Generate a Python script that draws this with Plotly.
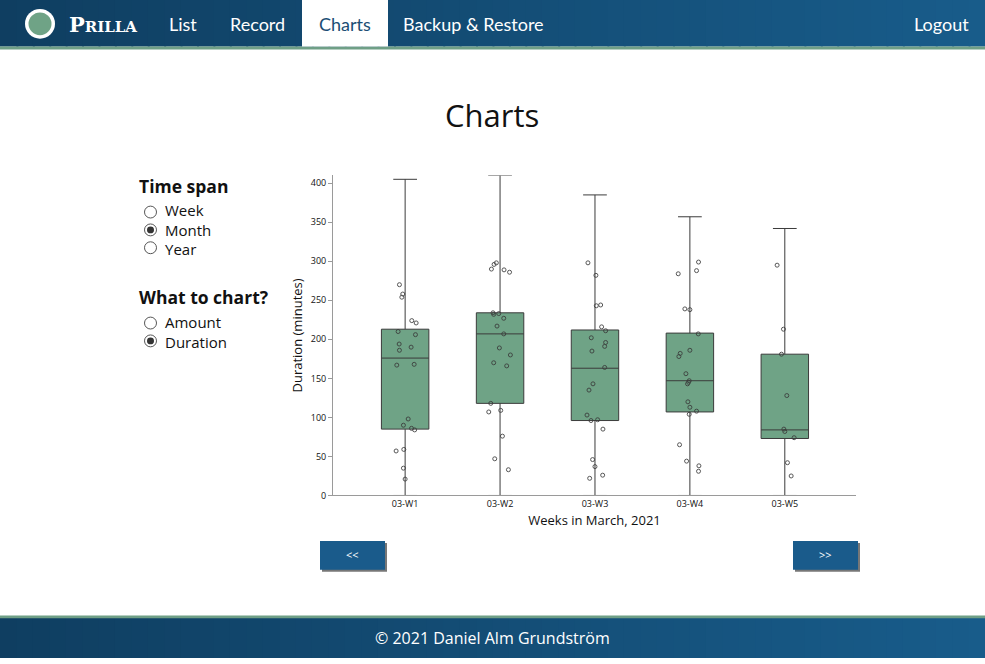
"""
Prilla - charts page: duration of sessions per week in March 2021,
drawn as a box plot with the single recordings scattered over it.
"""

import plotly.graph_objects as go


# ---- data ----
weeks = ["03-W1", "03-W2", "03-W3", "03-W4", "03-W5"]

box_min = [0, 0, 0, 0, 0]
box_q1 = [85, 118, 96, 107, 73]
box_median = [176, 207, 163, 147, 84]
box_q3 = [213, 234, 212, 208, 181]
box_max = [405, 410, 385, 357, 342]

# single recordings (minutes) and their horizontal jitter per week
w1_minutes = [270, 258, 254, 224, 221, 210, 206, 194, 190, 186, 167, 168,
              98, 90, 86, 84, 57, 59, 35, 21]
w1_jitter = [-0.06, -0.025, -0.035, 0.07, 0.116, -0.074, 0.109, -0.063,
             0.063, -0.06, -0.088, 0.095, 0.032, -0.018, 0.067, 0.10,
             -0.095, -0.014, -0.018, 0.0]

w2_minutes = [290, 296, 298, 289, 286, 234, 232, 233, 227, 217, 207, 189,
              180, 170, 166, 118, 107, 109, 76, 47, 33]
w2_jitter = [-0.091, -0.063, -0.039, 0.042, 0.10, -0.074, -0.067, -0.014,
             0.039, -0.032, 0.039, -0.007, 0.109, -0.067, 0.07, -0.098,
             -0.119, 0.007, 0.025, -0.056, 0.088]

w3_minutes = [298, 282, 243, 244, 216, 211, 202, 196, 191, 185, 164, 143,
              135, 103, 96, 97, 85, 46, 37, 26, 22]
w3_jitter = [-0.074, 0.01, 0.014, 0.06, 0.07, 0.112, -0.039, 0.112, 0.102,
             -0.032, 0.102, -0.021, -0.063, -0.084, -0.042, 0.028, 0.084,
             -0.025, 0.0, 0.081, -0.056]

w4_minutes = [299, 288, 284, 239, 238, 207, 186, 182, 178, 156, 147, 145,
              143, 120, 113, 108, 104, 65, 44, 38, 31]
w4_jitter = [0.091, 0.07, -0.123, -0.053, 0.0, 0.088, 0.0, -0.102, -0.116,
             -0.042, -0.007, -0.014, -0.025, -0.021, 0.0, 0.07, -0.007,
             -0.109, -0.035, 0.095, 0.091]

w5_minutes = [295, 213, 181, 128, 85, 82, 74, 42, 25]
w5_jitter = [-0.081, -0.014, -0.035, 0.021, -0.01, 0.0, 0.098, 0.028,
             0.067]

nav_items = ["List", "Record", "Charts", "Backup & Restore"]
time_spans = ["Week", "Month", "Year"]
chart_kinds = ["Amount", "Duration"]


W, H = 985, 664
NAVY_L = (15, 62, 97)
NAVY_R = (24, 92, 138)
GREEN = "#6f9f86"
BOX_GREEN = "#6fa386"


def px(x):
    return x / W


def py(y):
    return 1 - y / H


def mix(a, b, t):
    return "rgb(%d,%d,%d)" % tuple(round(a[i] + (b[i] - a[i]) * t)
                                   for i in range(3))


def gradient_bar(y0, y1, steps=60):
    # a horizontal gradient made from thin strips
    out = []
    for i in range(steps):
        out.append(dict(type="rect", xref="paper", yref="paper",
                        x0=i / steps, x1=(i + 1) / steps + 0.002,
                        y0=py(y1), y1=py(y0), line_width=0,
                        fillcolor=mix(NAVY_L, NAVY_R, i / (steps - 1)),
                        layer="below"))
    return out


fig = go.Figure()

# boxes: whiskers go from min to max
fig.add_trace(go.Box(
    x=list(range(len(weeks))),
    q1=box_q1, median=box_median, q3=box_q3,
    lowerfence=box_min, upperfence=box_max,
    width=0.5, whiskerwidth=0.5,
    fillcolor=BOX_GREEN,
    line=dict(color="#3b3b3b", width=1),
    boxpoints=False, hoverinfo="skip", showlegend=False,
))

# jittered recordings on top
all_minutes = [w1_minutes, w2_minutes, w3_minutes, w4_minutes, w5_minutes]
all_jitter = [w1_jitter, w2_jitter, w3_jitter, w4_jitter, w5_jitter]
for i, (mins, jit) in enumerate(zip(all_minutes, all_jitter)):
    fig.add_trace(go.Scatter(
        x=[i + j for j in jit], y=mins, mode="markers",
        marker=dict(symbol="circle-open", size=4, color="#3a3a3a",
                    line=dict(width=1)),
        opacity=0.85, hoverinfo="skip", showlegend=False,
    ))

fig.update_xaxes(
    domain=[px(333), px(856)], range=[-0.76, 4.75],
    tickvals=list(range(len(weeks))), ticktext=weeks,
    ticks="", showline=True, linecolor="#9a9a9a", linewidth=1,
    showgrid=False, zeroline=False,
    tickfont=dict(family="Open Sans", size=9, color="#111"),
    title=dict(text="Weeks in March, 2021", standoff=6,
               font=dict(family="Open Sans", size=13, color="#111")),
)
fig.update_yaxes(
    domain=[py(500), py(177)], range=[0, 410],
    tickvals=list(range(0, 401, 50)),
    ticks="outside", ticklen=4, tickcolor="#9a9a9a",
    showline=True, linecolor="#9a9a9a", linewidth=1,
    showgrid=False, zeroline=False,
    tickfont=dict(family="Open Sans", size=9, color="#111"),
    title=dict(text="Duration (minutes)", standoff=5,
               font=dict(family="Open Sans", size=13, color="#111")),
)

# ---- page around the chart ----
shapes = []
shapes += gradient_bar(0, 47)
shapes += gradient_bar(623, H)
shapes.append(dict(type="rect", xref="paper", yref="paper",
                   x0=0, x1=1, y0=py(50), y1=py(47),
                   fillcolor=GREEN, line_width=0))
shapes.append(dict(type="rect", xref="paper", yref="paper",
                   x0=0, x1=1, y0=py(624), y1=py(621),
                   fillcolor=GREEN, line_width=0))
# active tab
shapes.append(dict(type="rect", xref="paper", yref="paper",
                   x0=px(302), x1=px(388), y0=py(47), y1=py(0),
                   fillcolor="white", line_width=0))
# logo
shapes.append(dict(type="circle", xref="paper", yref="paper",
                   x0=px(25), x1=px(55), y0=py(39), y1=py(9),
                   fillcolor="white", line_width=0))
shapes.append(dict(type="circle", xref="paper", yref="paper",
                   x0=px(28.5), x1=px(51.5), y0=py(35.5), y1=py(12.5),
                   fillcolor=BOX_GREEN, line_width=0))

# radio buttons
radios = [(214, False), (232, True), (250, False), (326, False), (344, True)]
for y, checked in radios:
    shapes.append(dict(type="circle", xref="paper", yref="paper",
                       x0=px(144.5), x1=px(156.5), y0=py(y + 6),
                       y1=py(y - 6), fillcolor="white",
                       line=dict(color="#555", width=1)))
    if checked:
        shapes.append(dict(type="circle", xref="paper", yref="paper",
                           x0=px(147), x1=px(154), y0=py(y + 3.5),
                           y1=py(y - 3.5), fillcolor="#333", line_width=0))

# paging buttons
for x0 in (320, 793):
    shapes.append(dict(type="rect", xref="paper", yref="paper",
                       x0=px(x0 + 2), x1=px(x0 + 67), y0=py(577),
                       y1=py(548), fillcolor="#777", line_width=0))
    shapes.append(dict(type="rect", xref="paper", yref="paper",
                       x0=px(x0), x1=px(x0 + 65), y0=py(575), y1=py(546),
                       fillcolor="#1a5b8b", line_width=0))

ann = []


def text(x, y, s, size, color="#111", family="Open Sans", anchor="center"):
    ann.append(dict(xref="paper", yref="paper", x=px(x), y=py(y), text=s,
                    showarrow=False, xanchor=anchor, yanchor="middle",
                    align="left", borderpad=0,
                    font=dict(family=family, size=size, color=color)))


text(68, 25, "<b>P<span style='font-size:15px'>RILLA</span></b>", 21,
     color="white", family="DejaVu Serif", anchor="left")
nav_x = [183, 257, 345, 473]
for name, x in zip(nav_items, nav_x):
    text(x, 24, name, 18, color="#1c4e74" if name == "Charts" else "white",
         family="Lato")
text(941, 24, "Logout", 18, color="white", family="Lato")

text(492, 116, "Charts", 31, color="#111")

# the option labels of each radio group as one block
text(138, 188, "<b>Time span</b>", 17.5, anchor="left")
text(164, 232, "<br>".join(time_spans), 15, anchor="left")
text(138, 300, "<b>What to chart?</b>", 17.5, anchor="left")
text(164, 335, "<br>".join(chart_kinds), 15, anchor="left")

text(352, 560, "&lt;&lt;", 11, color="white")
text(825, 560, "&gt;&gt;", 11, color="white")

text(492, 644, "© 2021 Daniel Alm Grundström", 16, color="white")

fig.update_layout(
    autosize=True,
    margin=dict(l=0, r=0, t=0, b=0),
    paper_bgcolor="white", plot_bgcolor="white",
    shapes=shapes, annotations=ann,
)

# the figure fills the window; drop the default body margin
fig.write_html("out.html",
               config=dict(displayModeBar=False, responsive=True),
               default_width="100vw", default_height="100vh",
               post_script="document.body.style.margin='0';"
                           "document.body.style.overflow='hidden';")
